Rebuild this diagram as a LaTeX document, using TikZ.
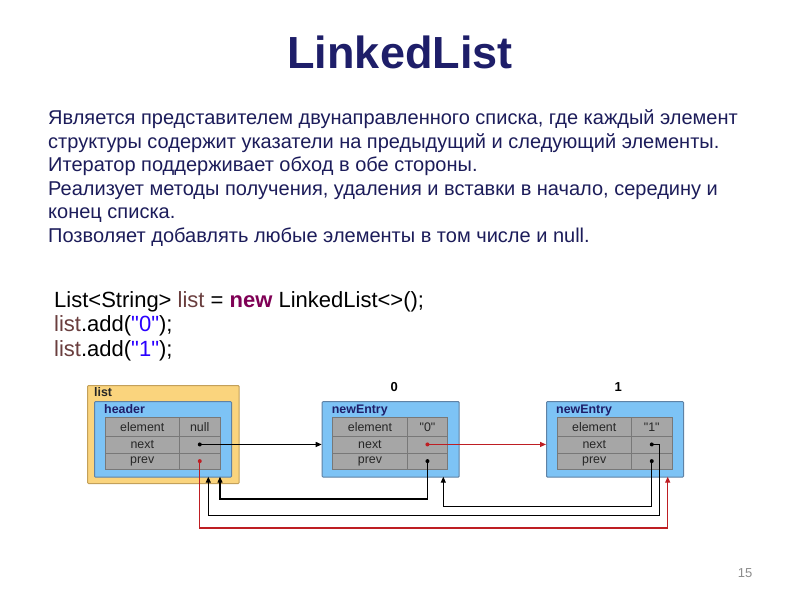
\documentclass[tikz,border=0pt]{standalone}
\usepackage{fontspec}
\setmainfont{Liberation Sans}
\usetikzlibrary{arrows.meta}
\definecolor{navy}{RGB}{30,30,105}
\definecolor{bodyc}{RGB}{28,28,90}
\definecolor{boxblue}{RGB}{125,195,245}
\definecolor{boxblueb}{RGB}{95,130,165}
\definecolor{listy}{RGB}{250,212,125}
\definecolor{listyb}{RGB}{195,160,90}
\definecolor{cellg}{RGB}{166,166,166}
\definecolor{cellb}{RGB}{120,120,120}
\definecolor{ptrred}{RGB}{190,30,35}
\definecolor{jvar}{RGB}{106,62,62}
\definecolor{jkw}{RGB}{127,0,85}
\definecolor{jstr}{RGB}{42,0,255}
\newcommand{\myfs}[1]{\fontsize{#1}{#1}\selectfont}
\newcommand{\dq}{\textquotedbl}
\tikzset{
  bodyline/.style={anchor=base west, inner sep=0pt, text=bodyc, font=\myfs{20}},
  codeline/.style={anchor=base west, inner sep=0pt, text=black, font=\myfs{22}},
  outerbox/.style={draw=listyb, fill=listy, line width=1pt, anchor=north west, inner sep=0pt, minimum width=151.7pt, minimum height=98pt, rounded corners=1pt},
  entrybox/.style={draw=boxblueb, fill=boxblue, line width=1pt, anchor=north west, inner sep=0pt, minimum width=137pt, minimum height=75.7pt, rounded corners=1pt},
  boxlabel/.style={anchor=base west, inner sep=0pt, font=\myfs{12.4}\bfseries, text=navy},
  cell/.style={draw=cellb, fill=cellg, line width=0.8pt, anchor=north west, inner sep=0pt, outer sep=0pt, font=\myfs{12.4}, text=black!85},
  keycell/.style={cell, minimum width=74.5pt},
  valcell/.style={cell, minimum width=40.5pt},
  idx/.style={anchor=base, inner sep=0pt, font=\myfs{13}\bfseries, text=black},
  ptr/.style={line width=1.2pt, draw=black, -{Triangle[length=6pt,width=5pt]}},
  redptr/.style={ptr, draw=ptrred},
}
\newcommand{\listentry}[4]{%
  \node[entrybox] (#1-box) at (#2,401) {};
  \node[boxlabel] (#1-lab) at (#2+10,413.3) {#3};
  \node[keycell, minimum height=18.3pt] (#1-el) at (#2+11,417.7) {element};
  \node[valcell, minimum height=18.3pt] (#1-elv) at (#2+85.5,417.7) {#4};
  \node[keycell, minimum height=16.9pt] (#1-nx) at (#2+11,436) {next};
  \node[valcell, minimum height=16.9pt] (#1-nxv) at (#2+85.5,436) {};
  \node[keycell, minimum height=16.4pt] (#1-pv) at (#2+11,452.9) {prev};
  \node[valcell, minimum height=16.4pt] (#1-pvv) at (#2+85.5,452.9) {};
}
\begin{document}
\begin{tikzpicture}[x=1pt,y=-1pt]
\fill[white] (0,0) rectangle (800,600);
\useasboundingbox (0,0) rectangle (800,600);

\node[anchor=base, inner sep=0pt, font=\myfs{45}\bfseries, text=navy] (title) at (400,68) {LinkedList};

\node[bodyline] (t1) at (48,124) {Является представителем двунаправленного списка, где каждый элемент};
\node[bodyline] (t2) at (48,148) {структуры содержит указатели на предыдущий и следующий элементы.};
\node[bodyline] (t3) at (48,171.5) {Итератор поддерживает обход в обе стороны.};
\node[bodyline] (t4) at (48,195) {Реализует методы получения, удаления и вставки в начало, середину и};
\node[bodyline] (t5) at (48,218.5) {конец списка.};
\node[bodyline] (t6) at (48,242) {Позволяет добавлять любые элементы в том числе и null.};

\node[codeline] (c1) at (54,307) {List<String> \textcolor{jvar}{list} = \textcolor{jkw}{\bfseries new} LinkedList<>();};
\node[codeline] (c2) at (54,331.5) {\textcolor{jvar}{list}.add(\textcolor{jstr}{\dq0\dq});};
\node[codeline] (c3) at (54,356) {\textcolor{jvar}{list}.add(\textcolor{jstr}{\dq1\dq});};

% list wrapper
\node[outerbox] (listbox) at (87,385) {};
\node[boxlabel, text=black!85] (listlab) at (94,396.7) {list};
\listentry{h}{94}{header}{null}
\listentry{e0}{321.7}{newEntry}{\dq0\dq}
\listentry{e1}{546}{newEntry}{\dq1\dq}
\node[idx] (i0) at (394.3,391) {0};
\node[idx] (i1) at (618.3,391) {1};

% helper coordinates
\coordinate (lv1) at (0,499);
\coordinate (lv2) at (0,506.7);
\coordinate (lv3) at (0,515.7);
\coordinate (lv4) at (0,528);
\coordinate (hin1) at (220,476.7);
\coordinate (hin2) at (208.3,476.7);
\coordinate (e0in) at (443.3,476.7);
\coordinate (e1in) at (667.7,476.7);
\coordinate (e1r) at (659.3,0);

% pointers
\draw[ptr] (h-nxv.center) -- (h-nxv.center -| e0-box.west);
\draw[redptr] (e0-nxv.center) -- (e0-nxv.center -| e1-box.west);
\draw[ptr] (e0-pvv.center) -- (e0-pvv.center |- lv1) -| (hin1);
\draw[ptr] (e1-pvv.center) -- (e1-pvv.center |- lv2) -| (e0in);
\draw[ptr] (e1-nxv.center) -- (e1-nxv.center -| e1r) -- (e1r |- lv3) -| (hin2);
\draw[redptr] (h-pvv.center) -- (h-pvv.center |- lv4) -| (e1in);

% dots
\fill[black] (h-nxv.center) circle (2pt);
\fill[ptrred] (h-pvv.center) circle (2pt);
\fill[ptrred] (e0-nxv.center) circle (2pt);
\fill[black] (e0-pvv.center) circle (2pt);
\fill[black] (e1-nxv.center) circle (2pt);
\fill[black] (e1-pvv.center) circle (2pt);

\node[anchor=base, inner sep=0pt, font=\myfs{13}, text=black!45] (pg) at (745,577) {15};
\end{tikzpicture}
\end{document}
